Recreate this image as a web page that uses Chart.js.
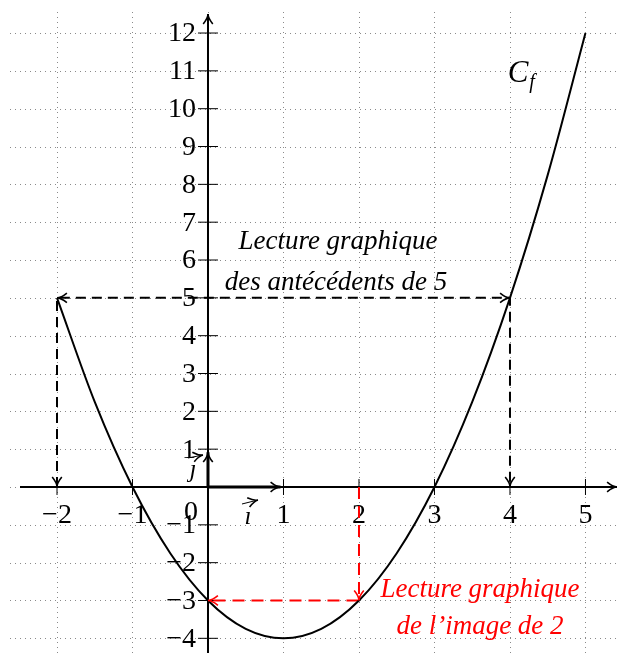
<!DOCTYPE html>
<html>
<head>
<meta charset="utf-8">
<script src="https://cdn.jsdelivr.net/npm/chart.js@4.4.1/dist/chart.umd.min.js"></script>
<style>
  body { margin: 0; background: #fff; }
  #wrap { width: 619px; height: 653px; }
</style>
</head>
<body>
<div id="wrap"><canvas id="courbe" width="619" height="653"></canvas></div>
<script>
const xCourbe = [-2, -1.5, -1, -0.5, 0, 0.5, 1, 1.5, 2, 2.5, 3, 3.5, 4, 4.5, 5];
const yCourbe = [5, 2.25, 0, -1.75, -3, -3.75, -4, -3.75, -3, -1.75, 0, 2.25, 5, 8.25, 12];

// lecture des antécédents de 5
const xAntecedents = [-2, -2, 4, 4];
const yAntecedents = [0, 5, 5, 0];

// lecture de l'image de 2
const xImage = [2, 2, 0];
const yImage = [0, -3, -3];

const ticksX = [-2, -1, 1, 2, 3, 4, 5];
const ticksY = [-4, -3, -2, -1, 1, 2, 3, 4, 5, 6, 7, 8, 9, 10, 11, 12];

const SERIF = '"Liberation Serif", "DejaVu Serif", serif';

function points(xs, ys) {
    return xs.map((x, i) => ({ x: x, y: ys[i] }));
}

function fleche(ctx, x, y, angle, couleur) {
    ctx.save();
    ctx.strokeStyle = couleur;
    ctx.lineWidth = 1.6;
    ctx.setLineDash([]);
    ctx.beginPath();
    ctx.moveTo(x - 11 * Math.cos(angle - 0.45), y - 11 * Math.sin(angle - 0.45));
    ctx.quadraticCurveTo(x - 4 * Math.cos(angle), y - 4 * Math.sin(angle), x, y);
    ctx.quadraticCurveTo(x - 4 * Math.cos(angle), y - 4 * Math.sin(angle),
        x - 11 * Math.cos(angle + 0.45), y - 11 * Math.sin(angle + 0.45));
    ctx.stroke();
    ctx.restore();
}

const repere = {
    id: "repere",
    beforeDatasetsDraw(chart) {
        const ctx = chart.ctx;
        const sx = chart.scales.x;
        const sy = chart.scales.y;
        const W = chart.width, H = chart.height;

        // quadrillage pointillé
        ctx.save();
        ctx.strokeStyle = "#8a8a8a";
        ctx.lineWidth = 1;
        ctx.setLineDash([1, 4]);
        for (let v = -4; v <= 12; v++) {
            const py = Math.round(sy.getPixelForValue(v)) + 0.5;
            ctx.beginPath();
            ctx.moveTo(10, py);
            ctx.lineTo(W, py);
            ctx.stroke();
        }
        for (let v = -2; v <= 5; v++) {
            const px = Math.round(sx.getPixelForValue(v)) + 0.5;
            ctx.beginPath();
            ctx.moveTo(px, 12);
            ctx.lineTo(px, H);
            ctx.stroke();
        }
        ctx.restore();

        const x0 = sx.getPixelForValue(0);
        const y0 = sy.getPixelForValue(0);

        // axes
        ctx.save();
        ctx.strokeStyle = "#000";
        ctx.lineWidth = 2;
        ctx.beginPath();
        ctx.moveTo(20, y0);
        ctx.lineTo(617, y0);
        ctx.moveTo(x0, H);
        ctx.lineTo(x0, 14);
        ctx.stroke();
        ctx.restore();
        fleche(ctx, 617, y0, 0, "#000");
        fleche(ctx, x0, 14, -Math.PI / 2, "#000");

        // graduations
        ctx.save();
        ctx.strokeStyle = "#000";
        ctx.lineWidth = 1;
        ticksX.forEach(v => {
            const px = sx.getPixelForValue(v);
            ctx.beginPath();
            ctx.moveTo(px, y0 - 8);
            ctx.lineTo(px, y0 + 8);
            ctx.stroke();
        });
        ticksY.forEach(v => {
            const py = sy.getPixelForValue(v);
            ctx.beginPath();
            ctx.moveTo(x0 - 10, py);
            ctx.lineTo(x0 + 10, py);
            ctx.stroke();
        });

        // vecteurs i et j
        ctx.lineWidth = 3;
        ctx.beginPath();
        ctx.moveTo(x0, y0);
        ctx.lineTo(sx.getPixelForValue(1) - 3, y0);
        ctx.moveTo(x0, y0);
        ctx.lineTo(x0, sy.getPixelForValue(1) + 3);
        ctx.stroke();
        ctx.restore();
        fleche(ctx, sx.getPixelForValue(1) - 3, y0, 0, "#000");
        fleche(ctx, x0, sy.getPixelForValue(1) + 3, -Math.PI / 2, "#000");

        // libellés des graduations
        ctx.save();
        ctx.fillStyle = "#000";
        ctx.font = "28px " + SERIF;
        ctx.textAlign = "center";
        ctx.textBaseline = "alphabetic";
        ticksX.forEach(v => {
            const txt = v < 0 ? "\u2212" + Math.abs(v) : String(v);
            ctx.fillText(txt, sx.getPixelForValue(v), y0 + 36);
        });
        ctx.fillText("0", x0 - 17, y0 + 33);
        ctx.textAlign = "right";
        ctx.textBaseline = "middle";
        ticksY.forEach(v => {
            const txt = v < 0 ? "\u2212" + Math.abs(v) : String(v);
            ctx.fillText(txt, x0 - 12, sy.getPixelForValue(v) + 1);
        });

        // noms des vecteurs
        ctx.textAlign = "center";
        ctx.textBaseline = "alphabetic";
        ctx.font = "italic 25px " + SERIF;
        ctx.fillText("\u0131", x0 + 40, y0 + 37);
        ctx.fillText("\u0237", x0 - 15, y0 - 10);
        ctx.restore();
        ctx.save();
        ctx.strokeStyle = "#000";
        ctx.lineWidth = 1;
        ctx.beginPath();
        ctx.moveTo(x0 + 34, y0 + 17);
        ctx.lineTo(x0 + 50, y0 + 13);
        ctx.moveTo(x0 - 20, y0 - 29);
        ctx.lineTo(x0 - 5, y0 - 32);
        ctx.stroke();
        ctx.restore();
        fleche(ctx, x0 + 50, y0 + 13, -0.25, "#000");
        fleche(ctx, x0 - 5, y0 - 32, -0.2, "#000");
    },
    afterDatasetsDraw(chart) {
        const ctx = chart.ctx;
        const sx = chart.scales.x;
        const sy = chart.scales.y;
        const px = v => sx.getPixelForValue(v);
        const py = v => sy.getPixelForValue(v);

        // pointes des flèches de lecture
        fleche(ctx, px(xAntecedents[0]), py(yAntecedents[0]), Math.PI / 2, "#000");
        fleche(ctx, px(xAntecedents[3]), py(yAntecedents[3]), Math.PI / 2, "#000");
        fleche(ctx, px(xAntecedents[1]), py(yAntecedents[1]), Math.PI, "#000");
        fleche(ctx, px(xAntecedents[2]), py(yAntecedents[2]), 0, "#000");
        fleche(ctx, px(xImage[1]), py(yImage[1]), Math.PI / 2, "#ff0000");
        fleche(ctx, px(xImage[2]), py(yImage[2]), Math.PI, "#ff0000");

        // textes
        ctx.save();
        ctx.textAlign = "center";
        ctx.textBaseline = "alphabetic";
        ctx.font = "italic 27px " + SERIF;
        ctx.fillStyle = "#000";
        ctx.fillText("Lecture graphique", 338, 249);
        ctx.fillText("des antécédents de 5", 336, 290);
        ctx.fillStyle = "#ff0000";
        ctx.fillText("Lecture graphique", 480, 597);
        ctx.fillText("de l\u2019image de 2", 480, 634);
        ctx.fillStyle = "#000";
        ctx.font = "italic 31px " + SERIF;
        ctx.fillText("C", 518, 82);
        ctx.font = "italic 20px " + SERIF;
        ctx.fillText("f", 532, 88);
        ctx.restore();
    }
};

new Chart(document.getElementById("courbe"), {
    type: "scatter",
    data: {
        datasets: [
            {
                label: "Cf",
                data: points(xCourbe, yCourbe),
                showLine: true,
                borderColor: "#000",
                borderWidth: 2,
                pointRadius: 0,
                cubicInterpolationMode: "monotone"
            },
            {
                label: "antécédents de 5",
                data: points(xAntecedents, yAntecedents),
                showLine: true,
                borderColor: "#000",
                borderWidth: 2,
                borderDash: [10, 6],
                pointRadius: 0,
                tension: 0
            },
            {
                label: "image de 2",
                data: points(xImage, yImage),
                showLine: true,
                borderColor: "#ff0000",
                borderWidth: 2,
                borderDash: [12, 7],
                pointRadius: 0,
                tension: 0
            }
        ]
    },
    options: {
        responsive: false,
        animation: false,
        layout: { padding: 0 },
        plugins: {
            legend: { display: false },
            tooltip: { enabled: false }
        },
        scales: {
            x: { type: "linear", min: -2.755, max: 5.444, display: false },
            y: { type: "linear", min: -4.388, max: 12.873, display: false }
        }
    },
    plugins: [repere]
});
</script>
</body>
</html>
